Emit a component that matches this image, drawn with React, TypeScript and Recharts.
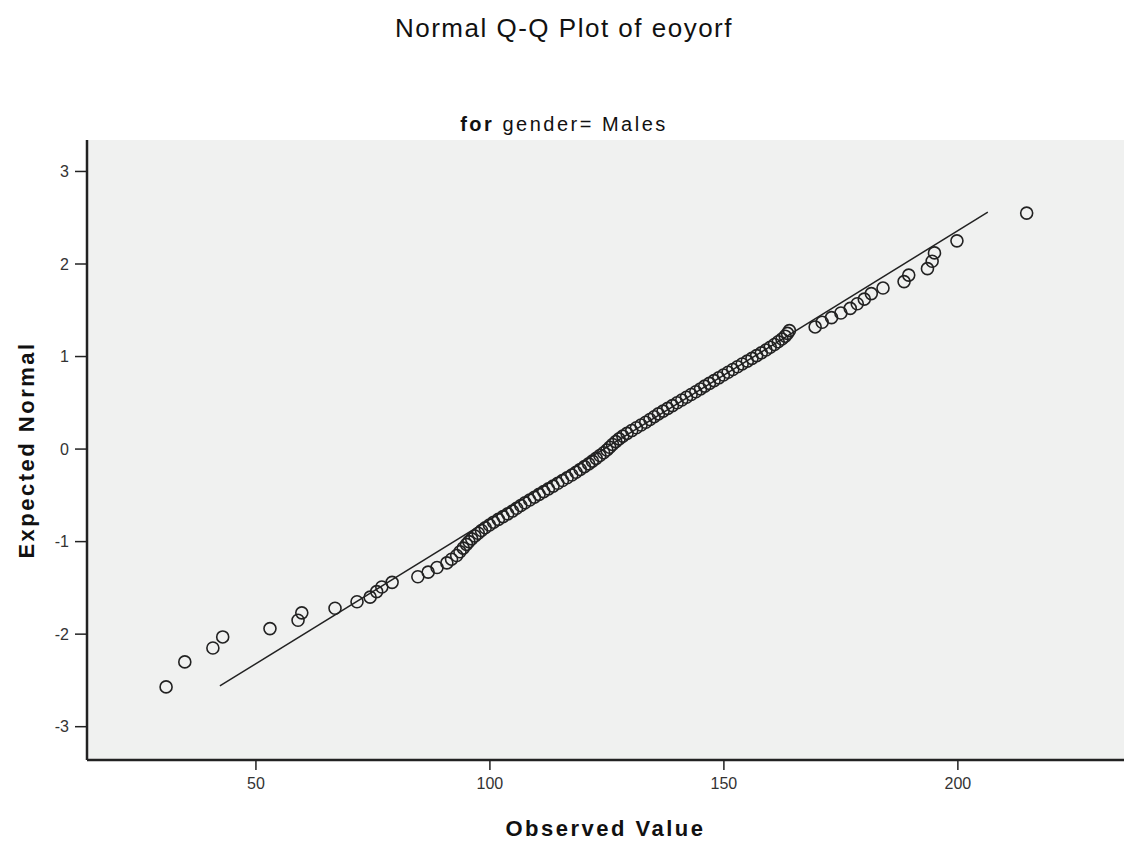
import {
  CartesianGrid,
  Label,
  ReferenceLine,
  Scatter,
  ScatterChart,
  XAxis,
  YAxis,
} from "recharts";

const observed = [
  30.8, 34.8, 40.8, 42.9, 53.0, 59.0, 59.8, 66.9, 71.6, 74.4,
  75.8, 76.9, 79.1, 84.6, 86.8, 88.7, 90.8, 91.8, 92.9, 93.6,
  94.3, 95.0, 95.5, 96.1, 96.8, 97.5, 98.2, 99.0, 99.9, 100.8,
  101.8, 102.8, 103.8, 104.8, 105.7, 106.6, 107.5, 108.5, 109.5, 110.5,
  111.5, 112.5, 113.5, 114.5, 115.5, 116.5, 117.5, 118.4, 119.3, 120.2,
  121.1, 121.9, 122.7, 123.5, 124.3, 125.0, 125.6, 126.2, 126.9, 127.6,
  128.4, 129.3, 130.3, 131.3, 132.3, 133.3, 134.2, 135.1, 136.0, 137.0,
  138.0, 139.0, 140.0, 141.0, 142.0, 143.0, 144.0, 145.0, 145.9, 146.9,
  147.9, 148.9, 149.9, 150.9, 151.9, 152.9, 153.9, 155.0, 156.0, 157.0,
  158.0, 159.0, 159.9, 160.8, 161.6, 162.4, 163.1, 163.6, 164.0, 169.5,
  171.0, 173.0, 175.0, 177.0, 178.5, 180.0, 181.5, 184.0, 188.5, 189.5,
  193.5, 194.5, 195.0, 199.8, 214.7,
];

const expected = [
  -2.57, -2.3, -2.15, -2.03, -1.94, -1.85, -1.77, -1.72, -1.65, -1.6,
  -1.54, -1.49, -1.44, -1.38, -1.33, -1.28, -1.23, -1.19, -1.15, -1.11,
  -1.07, -1.03, -1.0, -0.97, -0.94, -0.91, -0.88, -0.85, -0.82, -0.79,
  -0.76, -0.73, -0.7, -0.67, -0.64, -0.61, -0.58, -0.55, -0.52, -0.49,
  -0.46, -0.43, -0.4, -0.37, -0.34, -0.31, -0.28, -0.25, -0.22, -0.19,
  -0.16, -0.13, -0.1, -0.07, -0.04, -0.01, 0.02, 0.05, 0.08, 0.11,
  0.14, 0.17, 0.2, 0.23, 0.26, 0.29, 0.32, 0.35, 0.38, 0.41,
  0.44, 0.47, 0.5, 0.53, 0.56, 0.59, 0.62, 0.65, 0.68, 0.71,
  0.74, 0.77, 0.8, 0.83, 0.86, 0.89, 0.92, 0.95, 0.98, 1.01,
  1.04, 1.07, 1.1, 1.13, 1.16, 1.19, 1.22, 1.25, 1.28, 1.32,
  1.37, 1.42, 1.47, 1.52, 1.57, 1.62, 1.68, 1.74, 1.81, 1.88,
  1.95, 2.03, 2.12, 2.25, 2.55,
];

// fitted normal line end points
const lineStart = { x: 42.3, y: -2.56 };
const lineEnd = { x: 206.4, y: 2.56 };

const xTicks = [50, 100, 150, 200];
const yTicks = [-3, -2, -1, 0, 1, 2, 3];

const points = observed.map((x, i) => ({ x, y: expected[i] }));

const FONT = "'Liberation Sans', Arial, sans-serif";
const INK = "#222";

function Ring(props: { cx?: number; cy?: number }) {
  const { cx, cy } = props;
  if (cx == null || cy == null) return null;
  return <circle cx={cx} cy={cy} r={6} fill="none" stroke={INK} strokeWidth={1.6} />;
}

export default function App() {
  return (
    <div
      style={{
        position: "absolute",
        left: 0,
        top: 0,
        width: 1128,
        height: 846,
        background: "#fff",
        fontFamily: FONT,
      }}
    >
      <div
        style={{
          position: "absolute",
          top: 13,
          width: 1128,
          textAlign: "center",
          fontSize: 26,
          letterSpacing: 1.5,
          color: "#111",
        }}
      >
        Normal Q-Q Plot of eoyorf
      </div>
      <div
        style={{
          position: "absolute",
          top: 113,
          width: 1128,
          textAlign: "center",
          fontSize: 20,
          letterSpacing: 2.5,
          color: "#111",
        }}
      >
        <b>for</b> gender= Males
      </div>
      <div style={{ position: "absolute", left: 0, top: 0 }}>
        <ScatterChart
          width={1128}
          height={846}
          margin={{ top: 140, right: 4, bottom: 0, left: 0 }}
        >
          <CartesianGrid fill="#f0f1f0" horizontal={false} vertical={false} />
          <XAxis
            type="number"
            dataKey="x"
            domain={[13.9, 235.5]}
            ticks={xTicks}
            allowDataOverflow
            height={86}
            tickSize={10}
            tickMargin={8}
            axisLine={{ stroke: INK, strokeWidth: 2.5 }}
            tickLine={{ stroke: INK, strokeWidth: 1.5 }}
            tick={{ fontSize: 16, fill: "#333", fontFamily: FONT }}
          >
            <Label
              value="Observed Value"
              position="insideBottom"
              offset={10}
              style={{
                fontSize: 22,
                fontWeight: 700,
                fill: "#111",
                letterSpacing: 2.5,
                fontFamily: FONT,
              }}
            />
          </XAxis>
          <YAxis
            type="number"
            dataKey="y"
            domain={[-3.36, 3.34]}
            ticks={yTicks}
            allowDataOverflow
            width={87}
            tickSize={12}
            tickMargin={6}
            axisLine={{ stroke: INK, strokeWidth: 2.5 }}
            tickLine={{ stroke: INK, strokeWidth: 1.5 }}
            tick={{ fontSize: 16, fill: "#333", fontFamily: FONT }}
          >
            <Label
              value="Expected Normal"
              angle={-90}
              position="insideLeft"
              offset={26}
              style={{
                textAnchor: "middle",
                fontSize: 22,
                fontWeight: 700,
                fill: "#111",
                letterSpacing: 2.5,
                fontFamily: FONT,
              }}
            />
          </YAxis>
          <ReferenceLine
            segment={[lineStart, lineEnd]}
            stroke={INK}
            strokeWidth={1.5}
            ifOverflow="visible"
          />
          <Scatter data={points} shape={<Ring />} isAnimationActive={false} />
        </ScatterChart>
      </div>
    </div>
  );
}
